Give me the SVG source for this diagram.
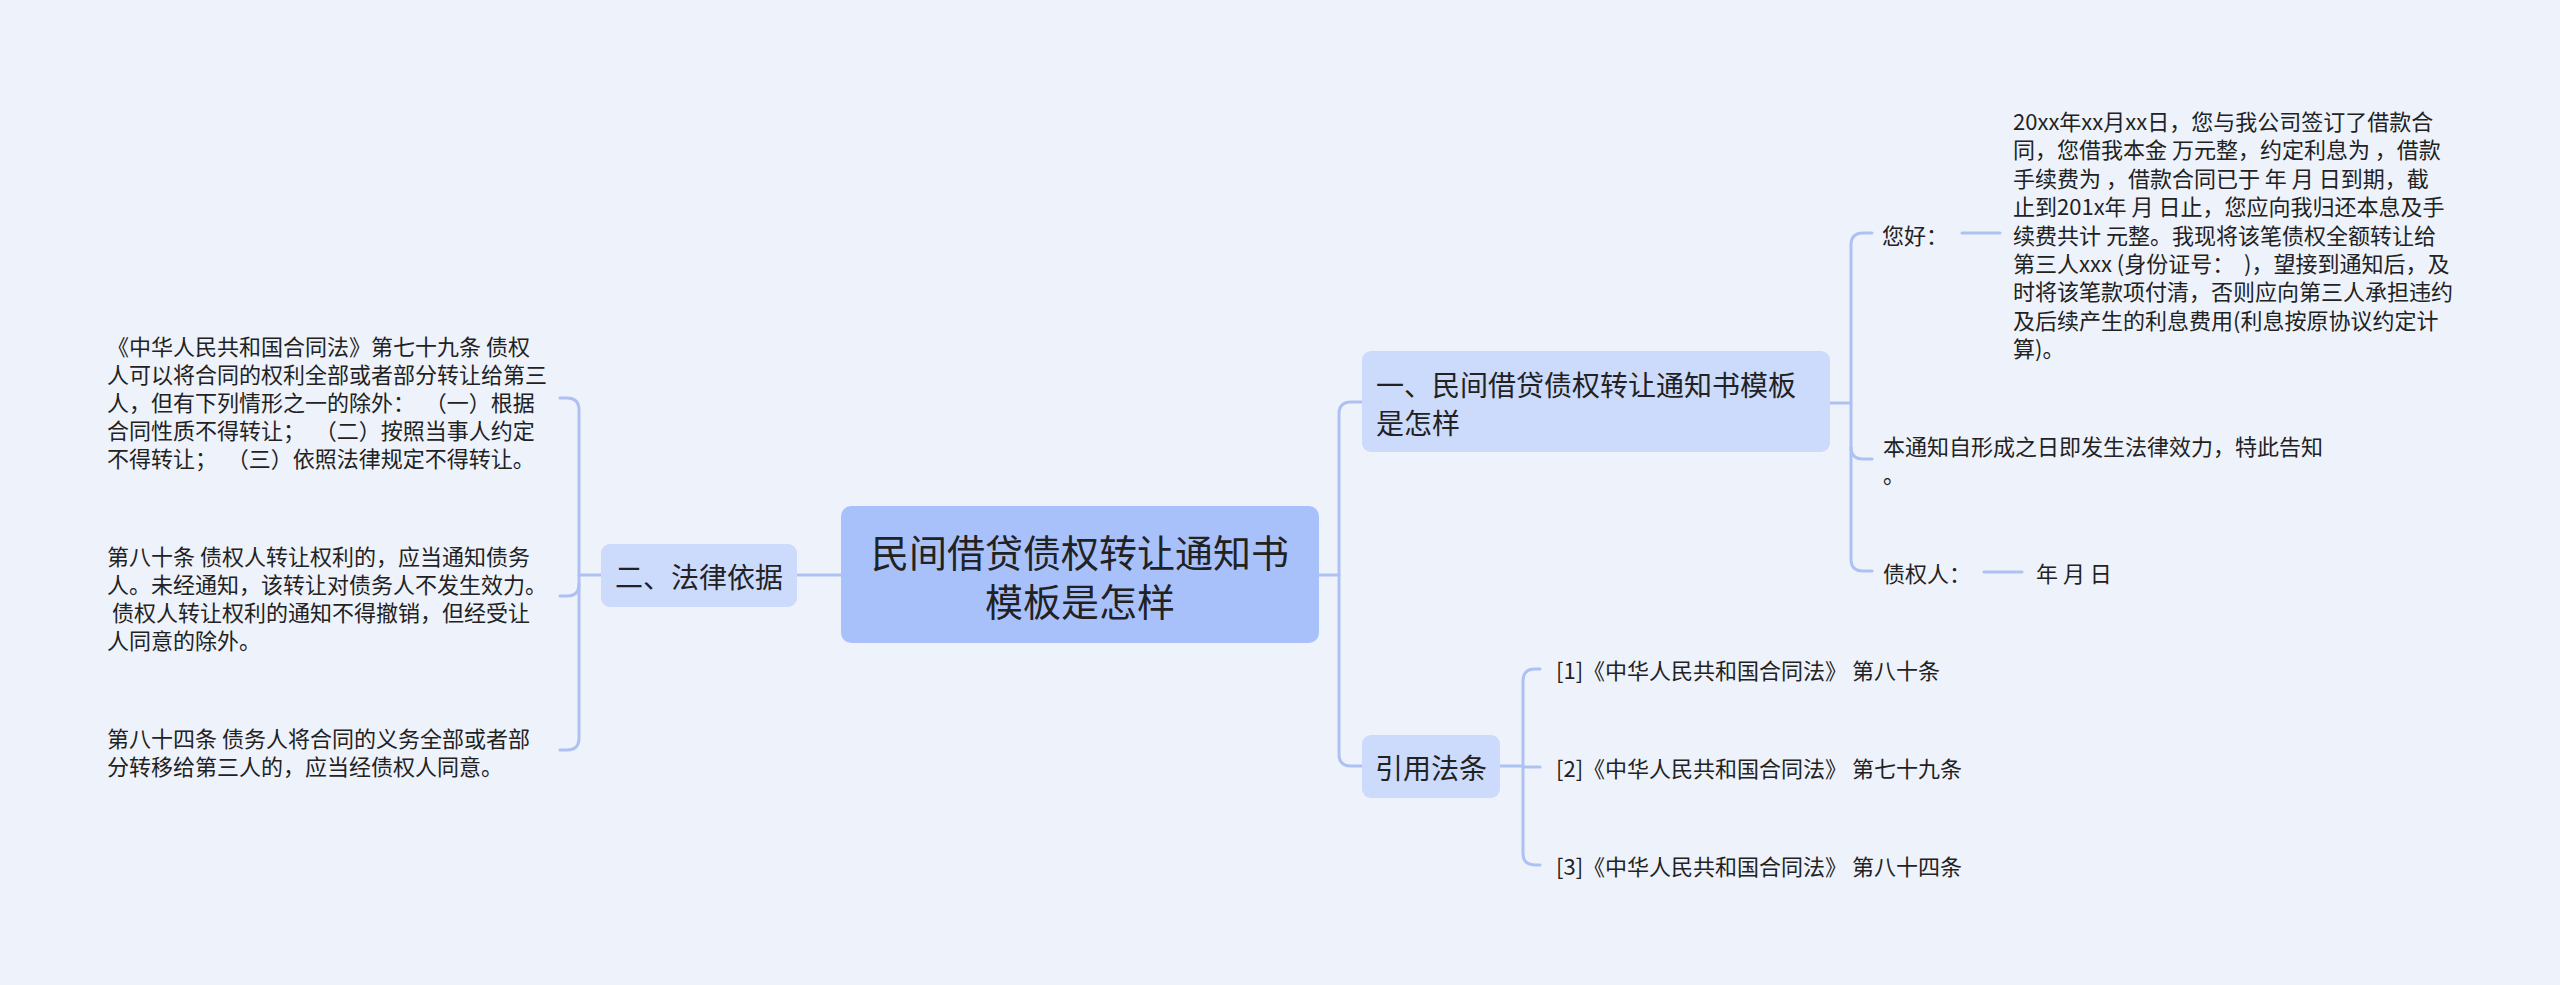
<svg xmlns="http://www.w3.org/2000/svg" width="2560" height="985" viewBox="0 0 2560 985">
<style>
text{font-family:"Noto Sans CJK SC","Noto Sans",sans-serif;fill:#222;dominant-baseline:central}
.leaf{font-size:22px}
.mid{font-size:28px}
.root{font-size:38px;text-anchor:middle}
.conn path{fill:none;stroke:#adc2f3;stroke-width:3;stroke-linecap:round}
.rootbox{fill:#a9c1fb}
.midbox{fill:#ccdafc}
</style>
<rect width="2560" height="985" fill="#eef2fb"/>
<g class="conn" id="connectors">
<path d="M601 575 L579 575"/>
<path d="M560 398 L567 398 Q579 398 579 410 L579 738 Q579 750 567 750 L560 750"/>
<path d="M579 584 Q579 596 567 596 L560 596"/>
<path d="M841 575 L797 575"/>
<path d="M1319 575 L1339 575"/>
<path d="M1362 402 L1351 402 Q1339 402 1339 414 L1339 754 Q1339 766 1351 766 L1362 766"/>
<path d="M1830 403 L1851 403"/>
<path d="M1872 233 L1863 233 Q1851 233 1851 245 L1851 559 Q1851 571 1863 571 L1872 571"/>
<path d="M1851 447 Q1851 459 1863 459 L1872 459"/>
<path d="M1962 233 L2000 233"/>
<path d="M1984 572 L2022 572"/>
<path d="M1500 766 L1523 766"/>
<path d="M1540 669 L1535 669 Q1523 669 1523 681 L1523 853 Q1523 865 1535 865 L1540 865"/>
<path d="M1523 767 L1540 767"/>
</g>
<g id="root">
<rect class="rootbox" x="841" y="506" width="478" height="137" rx="10"/>
<text class="root"><tspan x="1080" y="550">民间借贷债权转让通知书</tspan><tspan x="1080" y="599">模板是怎样</tspan></text>
</g>
<g id="n-falv">
<rect class="midbox" x="601" y="544" width="196" height="63" rx="9"/>
<text class="mid" x="615" y="576">二、法律依据</text>
</g>
<g id="n-l1">
<text class="leaf" x="107" y="345">《中华人民共和国合同法》第七十九条 债权</text>
<text class="leaf" x="107" y="373">人可以将合同的权利全部或者部分转让给第三</text>
<text class="leaf" x="107" y="401">人，但有下列情形之一的除外：&#160;&#160;（一）根据</text>
<text class="leaf" x="107" y="429">合同性质不得转让；&#160;&#160;（二）按照当事人约定</text>
<text class="leaf" x="107" y="457">不得转让；&#160;&#160;（三）依照法律规定不得转让。</text>
</g>
<g id="n-l2">
<text class="leaf" x="107" y="555">第八十条 债权人转让权利的，应当通知债务</text>
<text class="leaf" x="107" y="583">人。未经通知，该转让对债务人不发生效力。</text>
<text class="leaf" x="107" y="611">&#160;债权人转让权利的通知不得撤销，但经受让</text>
<text class="leaf" x="107" y="639">人同意的除外。</text>
</g>
<g id="n-l3">
<text class="leaf" x="107" y="737">第八十四条 债务人将合同的义务全部或者部</text>
<text class="leaf" x="107" y="765">分转移给第三人的，应当经债权人同意。</text>
</g>
<g id="n-template">
<rect class="midbox" x="1362" y="351" width="468" height="101" rx="9"/>
<text class="mid" x="1376" y="384">一、民间借贷债权转让通知书模板</text>
<text class="mid" x="1376" y="422">是怎样</text>
</g>
<g id="n-nihao">
<text class="leaf" x="1882" y="234">您好：</text>
</g>
<g id="n-body">
<text class="leaf" x="2013" y="120">20xx年xx月xx日，您与我公司签订了借款合</text>
<text class="leaf" x="2013" y="148.4">同，您借我本金 万元整，约定利息为 ，借款</text>
<text class="leaf" x="2013" y="176.8">手续费为 ，借款合同已于 年 月 日到期，截</text>
<text class="leaf" x="2013" y="205.2">止到201x年 月 日止，您应向我归还本息及手</text>
<text class="leaf" x="2013" y="233.6">续费共计 元整。我现将该笔债权全额转让给</text>
<text class="leaf" x="2013" y="262">第三人xxx (身份证号：&#160;&#160;)，望接到通知后，及</text>
<text class="leaf" x="2013" y="290.4">时将该笔款项付清，否则应向第三人承担违约</text>
<text class="leaf" x="2013" y="318.8">及后续产生的利息费用(利息按原协议约定计</text>
<text class="leaf" x="2013" y="347.2">算)。</text>
</g>
<g id="n-notice">
<text class="leaf" x="1883" y="445">本通知自形成之日即发生法律效力，特此告知</text>
<text class="leaf" x="1883" y="473">。</text>
</g>
<g id="n-creditor">
<text class="leaf" x="1883" y="572">债权人：</text>
</g>
<g id="n-date">
<text class="leaf" x="2036" y="572">年 月 日</text>
</g>
<g id="n-cite">
<rect class="midbox" x="1362" y="735" width="138" height="63" rx="9"/>
<text class="mid" x="1375" y="767">引用法条</text>
</g>
<g id="n-c1"><text class="leaf" x="1556" y="669">[1]《中华人民共和国合同法》 第八十条</text></g>
<g id="n-c2"><text class="leaf" x="1556" y="767">[2]《中华人民共和国合同法》 第七十九条</text></g>
<g id="n-c3"><text class="leaf" x="1556" y="865">[3]《中华人民共和国合同法》 第八十四条</text></g>
</svg>
